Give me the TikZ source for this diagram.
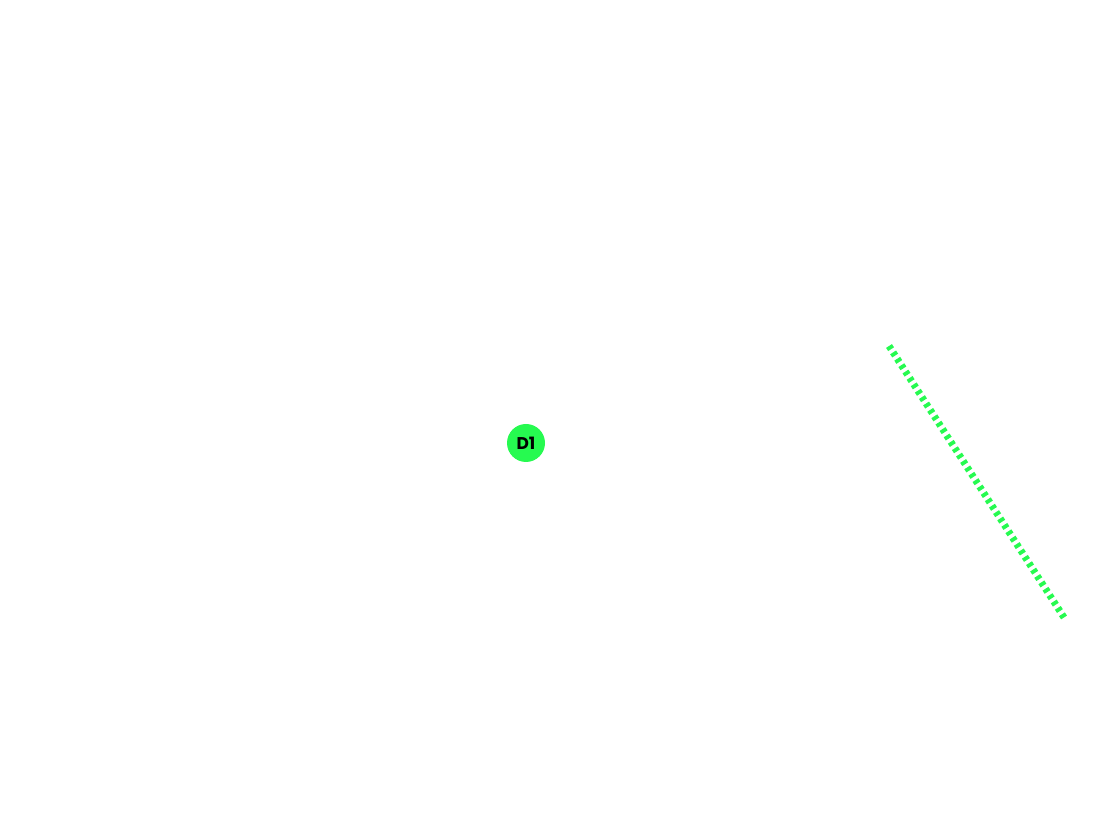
\documentclass[tikz,border=0pt]{standalone}
\usepackage{fontspec}
\setmainfont{Poppins}
\definecolor{lgreen}{RGB}{38,250,80}
\begin{document}
\begin{tikzpicture}[x=1pt,y=1pt,
  dnode/.style={circle,fill=lgreen,minimum size=38pt,inner sep=0pt,font=\bfseries\fontsize{17}{17}\selectfont},
  dline/.style={draw=lgreen,line width=7pt,dash pattern=on 3.8pt off 3.8pt}]
\useasboundingbox (0,0) rectangle (1100,818);
\node[dnode] (d1) at (526,375) {D1};
\coordinate (a) at (889,472);
\coordinate (b) at (1065,199);
\draw[dline] (a) -- (b);
\end{tikzpicture}
\end{document}
